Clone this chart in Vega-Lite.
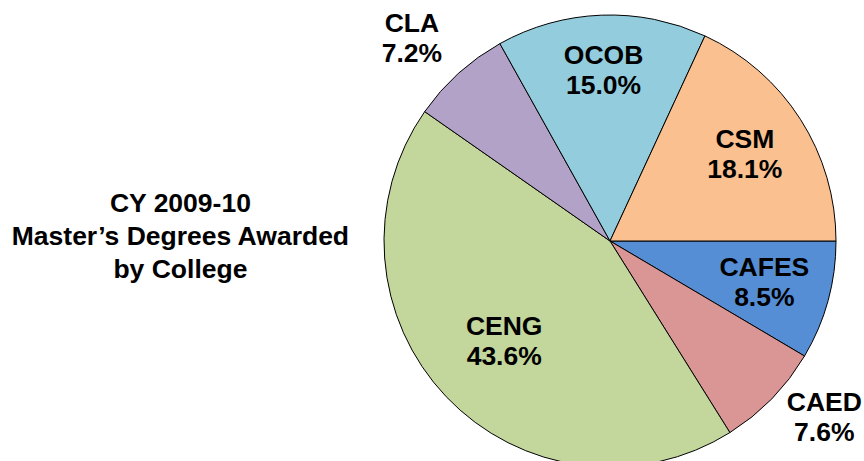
{
  "$schema": "https://vega.github.io/schema/vega-lite/v6.json",
  "width": 452,
  "height": 440,
  "autosize": {"type": "none"},
  "padding": {"left": 384, "top": 21, "right": 28, "bottom": 0},
  "background": "white",
  "view": {"stroke": null},
  "title": {
    "text": ["CY 2009-10", "Master’s Degrees Awarded", "by College"],
    "orient": "left",
    "angle": 0,
    "anchor": "middle",
    "align": "center",
    "baseline": "middle",
    "offset": -137,
    "dy": -37,
    "fontSize": 26.5,
    "font": "Liberation Sans",
    "fontWeight": "bold",
    "lineHeight": 33,
    "color": "black"
  },
  "data": {
    "values": [
      {"College": "CAFES", "pct": 8.5, "seq": 1},
      {"College": "CAED", "pct": 7.6, "seq": 2},
      {"College": "CENG", "pct": 43.6, "seq": 3},
      {"College": "CLA", "pct": 7.2, "seq": 4},
      {"College": "OCOB", "pct": 15.0, "seq": 5},
      {"College": "CSM", "pct": 18.1, "seq": 6}
    ]
  },
  "transform": [
    {"stack": "pct", "groupby": [], "sort": [{"field": "seq", "order": "ascending"}], "as": ["a0", "a1"]},
    {"calculate": "(datum.a0 + datum.a1) / 2", "as": "mid"},
    {"calculate": "[datum.College, format(datum.pct, '.1f') + '%']", "as": "label"}
  ],
  "layer": [
    {
      "mark": {"type": "arc", "outerRadius": 226, "stroke": "black", "strokeWidth": 1},
      "encoding": {
        "theta": {"field": "a0", "type": "quantitative", "scale": {"domain": [0, 100], "range": [1.5707963, 7.8539816]}},
        "theta2": {"field": "a1"},
        "color": {
          "field": "College",
          "type": "nominal",
          "scale": {
            "domain": ["CAFES", "CAED", "CENG", "CLA", "OCOB", "CSM"],
            "range": ["#558ED5", "#D99694", "#C3D69B", "#B3A2C7", "#93CDDD", "#FAC090"]
          },
          "legend": null
        }
      }
    },
    {
      "transform": [{"filter": "datum.College == 'CSM' || datum.College == 'CAFES'"}],
      "mark": {"type": "text", "radius": 160, "dy": -15, "fontSize": 26.5, "fontWeight": "bold", "font": "Liberation Sans", "lineHeight": 30, "color": "black", "baseline": "middle", "align": "center"},
      "encoding": {"theta": {"field": "mid", "type": "quantitative"}, "text": {"field": "label"}}
    },
    {
      "transform": [{"filter": "datum.College == 'OCOB'"}],
      "mark": {"type": "text", "radius": 170, "dy": -15, "fontSize": 26.5, "fontWeight": "bold", "font": "Liberation Sans", "lineHeight": 30, "color": "black", "baseline": "middle", "align": "center"},
      "encoding": {"theta": {"field": "mid", "type": "quantitative"}, "text": {"field": "label"}}
    },
    {
      "transform": [{"filter": "datum.College == 'CENG'"}],
      "mark": {"type": "text", "radius": 146, "dy": -15, "fontSize": 26.5, "fontWeight": "bold", "font": "Liberation Sans", "lineHeight": 30, "color": "black", "baseline": "middle", "align": "center"},
      "encoding": {"theta": {"field": "mid", "type": "quantitative"}, "text": {"field": "label"}}
    },
    {
      "transform": [{"filter": "datum.College == 'CLA'"}],
      "mark": {"type": "text", "radius": 279, "dx": -11, "dy": -10, "fontSize": 26.5, "fontWeight": "bold", "font": "Liberation Sans", "lineHeight": 30, "color": "black", "baseline": "middle", "align": "center"},
      "encoding": {"theta": {"field": "mid", "type": "quantitative"}, "text": {"field": "label"}}
    },
    {
      "transform": [{"filter": "datum.College == 'CAED'"}],
      "mark": {"type": "text", "radius": 277, "dx": 16, "dy": -31, "fontSize": 26.5, "fontWeight": "bold", "font": "Liberation Sans", "lineHeight": 30, "color": "black", "baseline": "middle", "align": "center"},
      "encoding": {"theta": {"field": "mid", "type": "quantitative"}, "text": {"field": "label"}}
    }
  ]
}
